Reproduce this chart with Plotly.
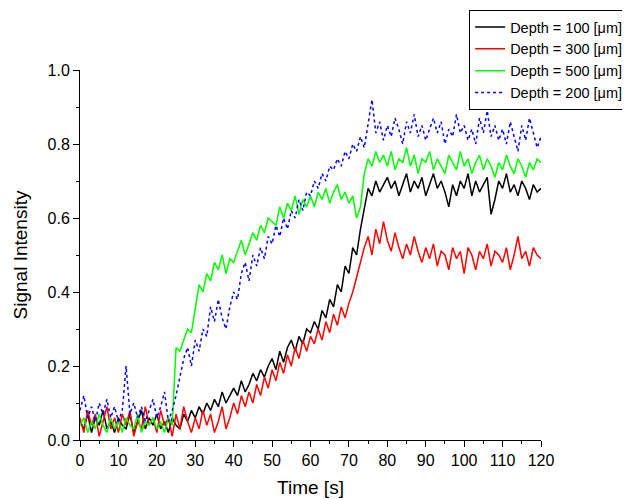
import plotly.graph_objects as go

time_s = list(range(0, 121))

depth_100 = [
    0.05,0.03,0.07,0.02,0.06,0.04,0.08,0.03,0.05,0.02,
    0.06,0.04,0.03,0.07,0.02,0.05,0.08,0.03,0.06,0.04,
    0.07,0.03,0.05,0.02,0.06,0.04,0.03,0.07,0.05,0.08,
    0.06,0.09,0.07,0.10,0.08,0.11,0.09,0.13,0.10,0.12,
    0.14,0.12,0.16,0.13,0.15,0.18,0.16,0.19,0.17,0.20,
    0.22,0.19,0.24,0.21,0.25,0.27,0.24,0.28,0.26,0.30,
    0.29,0.32,0.30,0.35,0.33,0.38,0.36,0.42,0.40,0.47,
    0.45,0.52,0.50,0.57,0.62,0.68,0.66,0.70,0.67,0.69,
    0.71,0.68,0.70,0.66,0.69,0.72,0.67,0.70,0.68,0.71,
    0.66,0.69,0.72,0.68,0.70,0.67,0.63,0.69,0.66,0.70,
    0.68,0.72,0.66,0.70,0.67,0.69,0.71,0.61,0.65,0.70,
    0.68,0.72,0.67,0.69,0.66,0.70,0.68,0.65,0.69,0.67,
    0.68,
]

depth_300 = [
    0.06,0.02,0.08,0.04,0.07,0.01,0.05,0.09,0.03,0.06,
    0.02,0.07,0.04,0.08,0.01,0.05,0.03,0.09,0.04,0.06,
    0.02,0.08,0.04,0.06,0.01,0.07,0.03,0.09,0.05,0.02,
    0.06,0.03,0.08,0.04,0.07,0.02,0.05,0.09,0.03,0.06,
    0.10,0.07,0.12,0.09,0.13,0.10,0.15,0.12,0.17,0.14,
    0.19,0.16,0.21,0.18,0.23,0.20,0.25,0.22,0.27,0.24,
    0.28,0.26,0.30,0.27,0.32,0.29,0.34,0.31,0.36,0.33,
    0.37,0.40,0.44,0.48,0.52,0.55,0.50,0.57,0.53,0.59,
    0.54,0.51,0.56,0.52,0.49,0.53,0.50,0.55,0.51,0.48,
    0.52,0.49,0.53,0.47,0.51,0.50,0.46,0.52,0.49,0.51,
    0.45,0.52,0.50,0.46,0.51,0.49,0.53,0.47,0.51,0.50,
    0.48,0.52,0.46,0.50,0.55,0.49,0.51,0.47,0.52,0.50,
    0.49,
]

depth_500 = [
    0.04,0.06,0.02,0.05,0.03,0.07,0.04,0.02,0.06,0.03,
    0.05,0.02,0.06,0.04,0.03,0.07,0.02,0.05,0.04,0.06,
    0.03,0.05,0.02,0.06,0.04,0.25,0.24,0.27,0.30,0.29,
    0.36,0.42,0.40,0.45,0.43,0.48,0.46,0.50,0.45,0.49,
    0.48,0.51,0.54,0.50,0.53,0.56,0.54,0.58,0.56,0.60,
    0.59,0.58,0.63,0.60,0.64,0.62,0.66,0.61,0.65,0.63,
    0.66,0.63,0.67,0.65,0.68,0.64,0.67,0.69,0.65,0.67,
    0.64,0.66,0.60,0.63,0.72,0.76,0.74,0.78,0.75,0.77,
    0.74,0.78,0.73,0.76,0.75,0.79,0.74,0.77,0.72,0.76,
    0.75,0.78,0.73,0.76,0.74,0.72,0.77,0.75,0.73,0.78,
    0.74,0.76,0.72,0.75,0.77,0.73,0.76,0.74,0.71,0.75,
    0.73,0.77,0.74,0.72,0.76,0.74,0.71,0.75,0.73,0.76,
    0.75,
]

depth_200 = [
    0.08,0.12,0.06,0.09,0.05,0.10,0.07,0.11,0.06,0.09,
    0.05,0.08,0.20,0.07,0.10,0.06,0.09,0.05,0.08,0.11,
    0.06,0.09,0.13,0.05,0.08,0.12,0.17,0.22,0.25,0.20,
    0.27,0.24,0.30,0.28,0.36,0.32,0.38,0.33,0.30,0.36,
    0.40,0.38,0.45,0.48,0.43,0.50,0.47,0.52,0.49,0.55,
    0.53,0.58,0.55,0.60,0.57,0.62,0.60,0.65,0.62,0.67,
    0.66,0.70,0.68,0.72,0.70,0.74,0.73,0.76,0.74,0.78,
    0.76,0.80,0.78,0.82,0.79,0.85,0.92,0.83,0.86,0.81,
    0.85,0.82,0.87,0.84,0.80,0.86,0.83,0.88,0.82,0.85,
    0.81,0.84,0.87,0.83,0.86,0.80,0.84,0.82,0.88,0.83,
    0.85,0.81,0.84,0.80,0.87,0.83,0.89,0.82,0.85,0.81,
    0.84,0.80,0.86,0.82,0.78,0.85,0.81,0.87,0.83,0.79,
    0.82,
]

series = [
    ("Depth = 100 [μm]", depth_100, "#000000", "solid"),
    ("Depth = 300 [μm]", depth_300, "#ff0000", "solid"),
    ("Depth = 500 [μm]", depth_500, "#00ff00", "solid"),
    ("Depth = 200 [μm]", depth_200, "#0000ff", "dot"),
]

fig = go.Figure()
for name, vals, color, dash in series:
    fig.add_trace(go.Scatter(
        x=time_s, y=vals, mode="lines", name=name,
        line=dict(color=color, width=1.5, dash=dash),
    ))

font_family = "Arial, Liberation Sans, sans-serif"

axis_common = dict(
    showline=True, linecolor="black", linewidth=1,
    ticks="outside", ticklen=6, tickwidth=1, tickcolor="black",
    showgrid=False, zeroline=False, mirror=False,
    tickfont=dict(family=font_family, size=16, color="black"),
)

fig.update_layout(
    width=620, height=490,
    margin=dict(l=72, r=87, t=62, b=58, autoexpand=False),
    paper_bgcolor="white", plot_bgcolor="white",
    font=dict(family=font_family, color="black"),
    xaxis=dict(
        range=[0, 120], tickmode="linear", tick0=0, dtick=10,
        minor=dict(ticks="outside", ticklen=3, tickwidth=1, tickcolor="black", dtick=5, showgrid=False),
        title=dict(text="Time [s]", font=dict(size=19), standoff=12),
        **axis_common,
    ),
    yaxis=dict(
        range=[0, 1.0], tickmode="linear", tick0=0, dtick=0.2, tickformat=".1f",
        minor=dict(ticks="outside", ticklen=3, tickwidth=1, tickcolor="black", dtick=0.1, showgrid=False),
        title=dict(text="Signal Intensity", font=dict(size=19), standoff=14),
        **axis_common,
    ),
    legend=dict(
        x=1.189, y=1.162, xanchor="right", yanchor="top",
        bgcolor="white", bordercolor="black", borderwidth=1,
        font=dict(size=14.5, family=font_family, color="black"),
        tracegroupgap=0, itemwidth=30,
    ),
    showlegend=True,
)

fig.write_html("out.html")
